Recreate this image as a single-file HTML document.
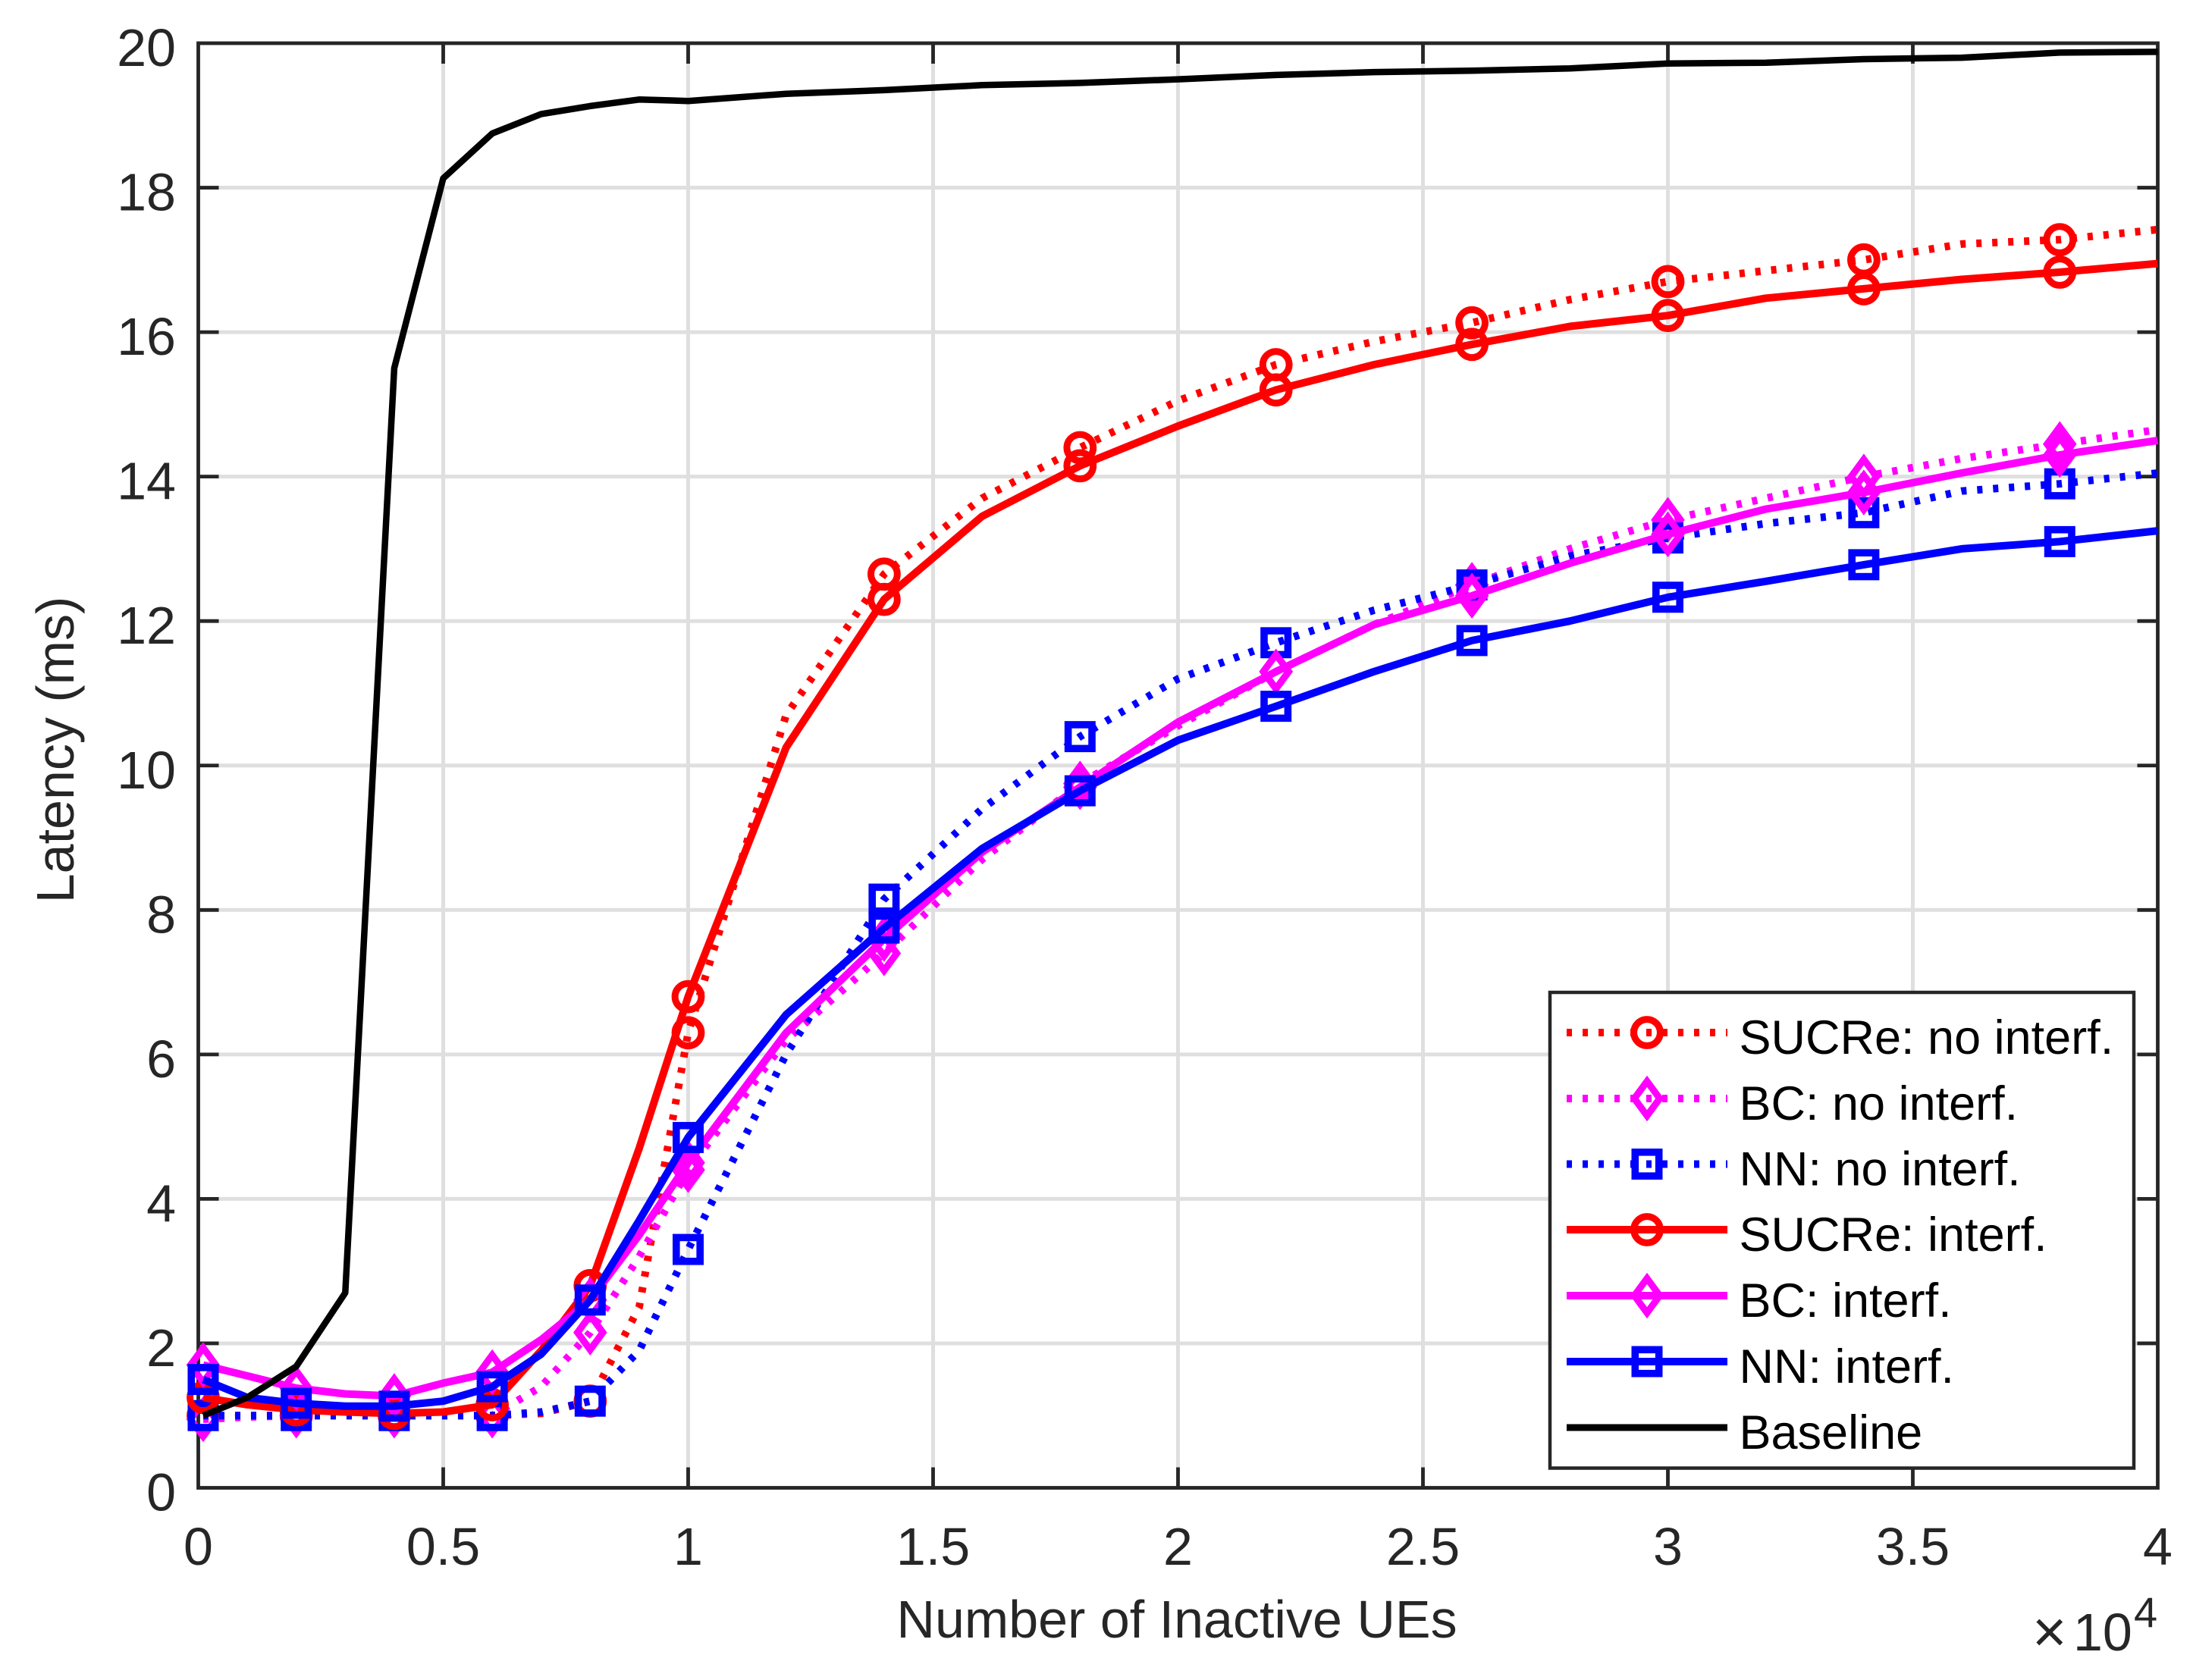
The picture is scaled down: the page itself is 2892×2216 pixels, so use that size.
<!DOCTYPE html>
<html lang="en">
<head>
<meta charset="utf-8">
<title>Latency vs Number of Inactive UEs</title>
<style>
html,body{margin:0;padding:0;background:#fff;}
svg{display:block;font-family:"Liberation Sans",Arial,sans-serif;}
</style>
</head>
<body>
<svg id="chart" xmlns="http://www.w3.org/2000/svg" width="2892" height="2216" viewBox="0 0 2892 2216">
  <rect x="0" y="0" width="2892" height="2216" fill="#fff"/>
  <g id="grid"></g>
  <g id="ticks"></g>
  <rect x="261.5" y="57" width="2584" height="1905.5" fill="none" stroke="#262626" stroke-width="4.8"/>
  <g id="tick-labels" font-size="70" fill="#262626"></g>
  <text x="1552" y="2160" font-size="70" fill="#262626" text-anchor="middle">Number of Inactive UEs</text>
  <text transform="translate(97,989) rotate(-90)" font-size="70" fill="#262626" text-anchor="middle">Latency (ms)</text>
  <g fill="#262626">
    <text x="2680" y="2179" font-size="78">×</text>
    <text x="2734" y="2177" font-size="70">10</text>
    <text x="2814" y="2146" font-size="56">4</text>
  </g>
  <g id="series"></g>
  <g>
    <rect x="2044" y="1309" width="770" height="627.5" fill="#fff" stroke="#262626" stroke-width="4.5"/>
    <g>
      <line x1="2066" y1="1362" x2="2278" y2="1362" stroke="#ff0000" stroke-width="10" stroke-dasharray="7 14"/>
      <circle cx="2172" cy="1362" r="17.4" fill="none" stroke="#ff0000" stroke-width="9"/>
      <text x="2293.5" y="1390" font-size="63" fill="#000">SUCRe: no interf.</text>
    </g>
    <g>
      <line x1="2066" y1="1449" x2="2278" y2="1449" stroke="#ff00ff" stroke-width="10" stroke-dasharray="7 14"/>
      <path d="M2155.3 1449L2172 1426.3L2188.7 1449L2172 1471.7Z" fill="none" stroke="#ff00ff" stroke-width="9" stroke-miterlimit="10"/>
      <text x="2293.5" y="1477" font-size="63" fill="#000">BC: no interf.</text>
    </g>
    <g>
      <line x1="2066" y1="1535.5" x2="2278" y2="1535.5" stroke="#0000ff" stroke-width="10" stroke-dasharray="7 14"/>
      <rect x="2156.3" y="1519.8" width="31.4" height="31.4" fill="none" stroke="#0000ff" stroke-width="9.6"/>
      <text x="2293.5" y="1563.5" font-size="63" fill="#000">NN: no interf.</text>
    </g>
    <g>
      <line x1="2066" y1="1622" x2="2278" y2="1622" stroke="#ff0000" stroke-width="10"/>
      <circle cx="2172" cy="1622" r="17.4" fill="none" stroke="#ff0000" stroke-width="9"/>
      <text x="2293.5" y="1650" font-size="63" fill="#000">SUCRe: interf.</text>
    </g>
    <g>
      <line x1="2066" y1="1709" x2="2278" y2="1709" stroke="#ff00ff" stroke-width="10"/>
      <path d="M2155.3 1709L2172 1686.3L2188.7 1709L2172 1731.7Z" fill="none" stroke="#ff00ff" stroke-width="9" stroke-miterlimit="10"/>
      <text x="2293.5" y="1737" font-size="63" fill="#000">BC: interf.</text>
    </g>
    <g>
      <line x1="2066" y1="1796" x2="2278" y2="1796" stroke="#0000ff" stroke-width="10"/>
      <rect x="2156.3" y="1780.3" width="31.4" height="31.4" fill="none" stroke="#0000ff" stroke-width="9.6"/>
      <text x="2293.5" y="1824" font-size="63" fill="#000">NN: interf.</text>
    </g>
    <g>
      <line x1="2066" y1="1883" x2="2278" y2="1883" stroke="#000" stroke-width="9"/>
      <text x="2293.5" y="1911" font-size="63" fill="#000">Baseline</text>
    </g>
  </g>
</svg>
<script>
// Number of inactive UEs (in units of 10^4)
const inactiveUEs = [0.01,0.1,0.2,0.3,0.4,0.5,0.6,0.7,0.8,0.9,1,1.2,1.4,1.6,1.8,2,2.2,2.4,2.6,2.8,3,3.2,3.4,3.6,3.8,4];

// Latency values (ms)
const sucreNoInterf = [1.0,1.0,1.0,1.0,1.0,1.0,1.0,1.03,1.2,2.5,6.3,10.7,12.65,13.7,14.4,15.05,15.55,15.87,16.13,16.45,16.7,16.85,17.0,17.22,17.28,17.42];
const bcNoInterf = [0.95,0.98,1.0,1.0,1.0,1.0,1.0,1.4,2.15,3.2,4.4,6.2,7.4,8.7,9.75,10.55,11.3,11.95,12.5,13.0,13.4,13.7,14.0,14.25,14.45,14.65];
const nnNoInterf = [1.0,1.0,1.0,1.0,1.0,1.0,1.0,1.05,1.2,1.9,3.3,6.0,8.15,9.4,10.4,11.2,11.7,12.15,12.5,12.9,13.15,13.35,13.5,13.8,13.9,14.05];
const sucreInterf = [1.25,1.15,1.08,1.05,1.03,1.05,1.15,1.9,2.8,4.7,6.8,10.25,12.3,13.45,14.15,14.7,15.2,15.55,15.83,16.08,16.23,16.47,16.6,16.73,16.83,16.95];
const bcInterf = [1.7,1.55,1.38,1.3,1.27,1.45,1.6,2.05,2.6,3.5,4.5,6.3,7.6,8.8,9.7,10.6,11.3,11.95,12.35,12.8,13.2,13.55,13.78,14.05,14.3,14.5];
const nnInterf = [1.5,1.25,1.17,1.13,1.13,1.2,1.4,1.85,2.6,3.7,4.85,6.55,7.75,8.85,9.65,10.35,10.82,11.3,11.73,12.0,12.33,12.55,12.78,13.0,13.1,13.25];
const baseline = [1.0,1.25,1.68,2.7,15.5,18.13,18.75,19.02,19.13,19.22,19.2,19.3,19.35,19.42,19.45,19.5,19.56,19.6,19.62,19.65,19.72,19.73,19.78,19.8,19.87,19.88];

// Tick values and labels
const xTickValues = [0,0.5,1,1.5,2,2.5,3,3.5,4];
const xTickLabels = ['0','0.5','1','1.5','2','2.5','3','3.5','4'];
const yTickValues = [0,2,4,6,8,10,12,14,16,18,20];
const yTickLabels = ['0','2','4','6','8','10','12','14','16','18','20'];

const NS = 'http://www.w3.org/2000/svg';
const plot = {left:261.5, right:2845.5, top:57, bottom:1962.5};
const xDomain = [0,4];
const yDomain = [0,20];
function xScale(v){ return plot.left + (v - xDomain[0]) / (xDomain[1] - xDomain[0]) * (plot.right - plot.left); }
function yScale(v){ return plot.bottom - (v - yDomain[0]) / (yDomain[1] - yDomain[0]) * (plot.bottom - plot.top); }
function make(tag, attrs, parent){
  const el = document.createElementNS(NS, tag);
  for (const k in attrs) el.setAttribute(k, attrs[k]);
  parent.appendChild(el);
  return el;
}

const gridG = document.getElementById('grid');
const ticksG = document.getElementById('ticks');
const labelsG = document.getElementById('tick-labels');
const GRID = {stroke:'#dfdfdf','stroke-width':5};
const TICK = {stroke:'#262626','stroke-width':4.8};
const TICK_LEN = 27;

xTickValues.forEach(function(v, i){
  const x = xScale(v);
  if (i > 0 && i < xTickValues.length - 1) {
    const g = make('line', Object.assign({x1:x, x2:x, y1:plot.top, y2:plot.bottom}, GRID), gridG);
    
    
    const t1 = make('line', Object.assign({x1:x, x2:x, y1:plot.bottom, y2:plot.bottom - TICK_LEN}, TICK), ticksG);
    
    
    const t2 = make('line', Object.assign({x1:x, x2:x, y1:plot.top, y2:plot.top + TICK_LEN}, TICK), ticksG);
    
    
  }
  const lab = make('text', {x:x, y:2064, 'text-anchor':'middle'}, labelsG);
  lab.textContent = xTickLabels[i];
  
  
});

yTickValues.forEach(function(v, i){
  const y = yScale(v);
  if (i > 0 && i < yTickValues.length - 1) {
    const g = make('line', Object.assign({x1:plot.left, x2:plot.right, y1:y, y2:y}, GRID), gridG);
    
    
    const t1 = make('line', Object.assign({x1:plot.left, x2:plot.left + TICK_LEN, y1:y, y2:y}, TICK), ticksG);
    
    
    const t2 = make('line', Object.assign({x1:plot.right, x2:plot.right - TICK_LEN, y1:y, y2:y}, TICK), ticksG);
    
    
  }
  const lab = make('text', {x:232, y:y + 30, 'text-anchor':'end'}, labelsG);
  lab.textContent = yTickLabels[i];
  
  
});

function drawMarker(parent, kind, cx, cy, color){
  const base = {fill:'none', stroke:color, 'stroke-width':9};
  let m;
  if (kind === 'circle') {
    m = make('circle', Object.assign({cx:cx, cy:cy, r:17.4}, base), parent);
  } else if (kind === 'square') {
    m = make('rect', Object.assign({x:cx - 15.7, y:cy - 15.7, width:31.4, height:31.4}, base, {'stroke-width':9.6}), parent);
  } else {
    const d = 'M' + (cx - 16.7) + ' ' + cy + 'L' + cx + ' ' + (cy - 22.7) + 'L' + (cx + 16.7) + ' ' + cy + 'L' + cx + ' ' + (cy + 22.7) + 'Z';
    m = make('path', Object.assign({d:d, 'stroke-miterlimit':10}, base), parent);
  }
  
  
}

function drawSeries(name, values, color, dotted, marker, width){
  const root = document.getElementById('series');
  const g = make('g', {}, root);
  
  
  const pts = values.map(function(v, i){ return xScale(inactiveUEs[i]).toFixed(1) + ',' + yScale(v).toFixed(1); }).join(' ');
  const attrs = {points:pts, fill:'none', stroke:color, 'stroke-width':width, 'stroke-linejoin':'round'};
  if (dotted) attrs['stroke-dasharray'] = '7 14';
  const line = make('polyline', attrs, g);
  
  
  if (marker) {
    values.forEach(function(v, i){
      if (i % 2 === 0) drawMarker(g, marker, xScale(inactiveUEs[i]), yScale(v), color);
    });
  }
}

drawSeries('series-sucre-no-interf', sucreNoInterf, '#ff0000', true, 'circle', 10);
drawSeries('series-bc-no-interf', bcNoInterf, '#ff00ff', true, 'diamond', 10);
drawSeries('series-nn-no-interf', nnNoInterf, '#0000ff', true, 'square', 10);
drawSeries('series-sucre-interf', sucreInterf, '#ff0000', false, 'circle', 10);
drawSeries('series-bc-interf', bcInterf, '#ff00ff', false, 'diamond', 10);
drawSeries('series-nn-interf', nnInterf, '#0000ff', false, 'square', 10);
drawSeries('series-baseline', baseline, '#000000', false, null, 8.5);
</script>
</body>
</html>
